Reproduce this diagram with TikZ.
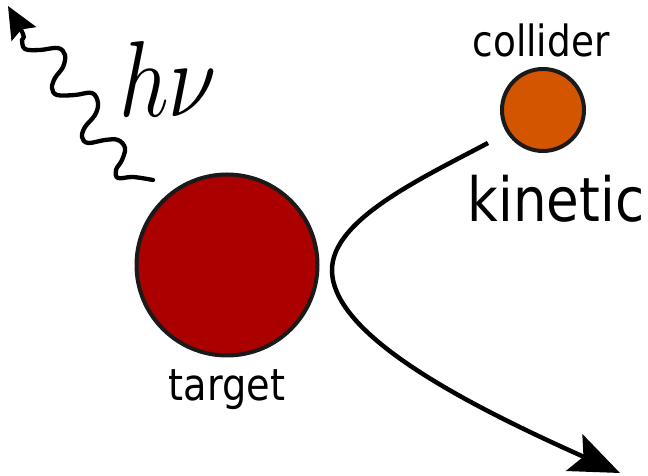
\documentclass[tikz,border=0pt]{standalone}
\usepackage{fontspec}
\usepackage{unicode-math}
\setsansfont[FakeStretch=0.87]{DejaVu Sans}
\usepackage{tikz}
\usetikzlibrary{positioning, arrows.meta}
\definecolor{targetred}{HTML}{AA0000}
\definecolor{colliderorange}{HTML}{D45500}
\definecolor{rim}{HTML}{1A1A1A}

\begin{document}
\begin{tikzpicture}[x=1pt, y=1pt,
    ball/.style={circle, draw=rim, line width=4pt, inner sep=0pt},
    lbl/.style={inner sep=0pt, outer sep=0pt}]
    \useasboundingbox (0,0) rectangle (648,476);

    \node [ball, fill=targetred, minimum size=181pt] (target) at (227,211) {};
    \node [ball, fill=colliderorange, minimum size=82pt] (collider) at (543,366) {};

    \node [lbl, font=\sffamily\fontsize{44}{44}\selectfont, below=12pt of target] (targetlbl) {target};
    \node [lbl, font=\sffamily\fontsize{43}{43}\selectfont, above=10pt of collider, xshift=-2pt] (colliderlbl) {collider};
    \node [lbl, font=\sffamily\fontsize{61}{61}\selectfont, below=22pt of collider, xshift=13pt] (kinetic) {kinetic};
    \node [lbl, anchor=base west, font=\fontsize{108}{108}\selectfont] (hnu) at (119,359) {\scalebox{0.8}[1]{$h\nu$}};

    % photon going out
    \coordinate (ph-start) at (153,296);
    \coordinate (ph-end) at (8,470);
    \draw [line width=4.3pt, line cap=round, -{Stealth[length=32pt, width=28pt, inset=5pt]}]
        plot [smooth, tension=0.6] coordinates {(ph-start) (133,299) (118,298) (116,306)
        (122,316) (125,328) (118,336) (105,336) (88,333) (82,339) (85,349) (95,361)
        (98,373) (92,383) (75,381) (57,381) (52,388) (55,398) (63,409) (65,421)
        (58,428) (40,426) (25,427) (22,436) (23,442) (ph-end)};

    % path of the collider
    \coordinate (kin-start) at (488,333);
    \coordinate (kin-turn) at (332,206);
    \coordinate (kin-end) at (620,3);
    \draw [line width=4.5pt, -{Stealth[length=50pt, width=40pt, inset=10pt]}]
        (kin-start) .. controls (420,297) and (332,256) .. (kin-turn)
        .. controls (332,140) and (470,70) .. (kin-end);

\end{tikzpicture}
\end{document}
